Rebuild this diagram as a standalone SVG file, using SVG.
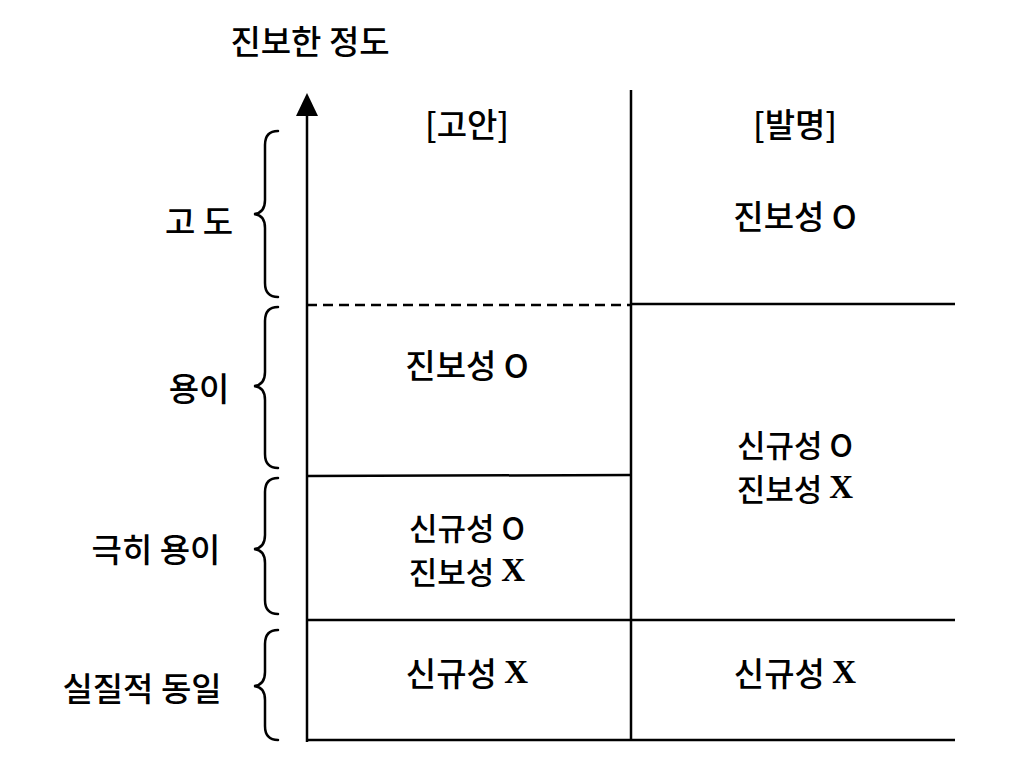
<svg xmlns="http://www.w3.org/2000/svg" width="1010" height="770" viewBox="0 0 1010 770">
<style>
text{font-family:"Noto Sans CJK KR","Noto Sans",sans-serif;font-size:33px;font-weight:500;fill:#000;text-anchor:middle;dominant-baseline:central}
.s{font-size:31px}
.x{font-family:"Liberation Serif",serif;font-weight:bold;font-size:33px}
.ln{stroke:#000;stroke-width:2.5;fill:none}
.br{stroke:#000;stroke-width:2.5;fill:none;stroke-linecap:round}
</style>
<rect width="1010" height="770" fill="#fff"/>
<g id="connectors">
<line class="ln" x1="307" y1="112" x2="307" y2="742"/>
<polygon points="307,93 296,116 318,116" fill="#000"/>
<line class="ln" x1="631" y1="90" x2="631" y2="741"/>
<line class="ln" x1="307" y1="305" x2="631" y2="305" stroke-dasharray="10,6"/>
<line class="ln" x1="631" y1="304" x2="955" y2="304"/>
<line class="ln" x1="307" y1="476" x2="631" y2="475"/>
<line class="ln" x1="307" y1="620" x2="955" y2="620"/>
<line class="ln" x1="307" y1="740" x2="955" y2="740" stroke-width="3"/>
</g>
<g id="braces">
<path class="br" d="M278,131 Q265,131 265,145 L265,200 Q265,213 254,214 Q265,215 265,228 L265,283 Q265,297 278,297"/>
<path class="br" d="M278,307 Q265,307 265,321 L265,372 Q265,385 254,386 Q265,387 265,400 L265,454 Q265,468 278,468"/>
<path class="br" d="M278,478 Q265,478 265,492 L265,535 Q265,548 254,549 Q265,550 265,563 L265,600 Q265,614 278,614"/>
<path class="br" d="M278,630 Q265,630 265,644 L265,672 Q265,685 254,686 Q265,687 265,700 L265,726 Q265,740 278,740"/>
</g>
<g id="title"><text x="310" y="40">진보한 정도</text></g>
<g id="head-utility"><text x="467" y="123">[고안]</text></g>
<g id="head-invention"><text x="795" y="123">[발명]</text></g>
<g id="lvl-high"><text x="199" y="220">고 도</text></g>
<g id="lvl-easy"><text x="199" y="387">용이</text></g>
<g id="lvl-very-easy"><text x="156" y="548">극히 용이</text></g>
<g id="lvl-same"><text x="142" y="687">실질적 동일</text></g>
<g id="inv-high"><text x="795" y="215">진보성 O</text></g>
<g id="util-easy"><text x="467" y="364">진보성 O</text></g>
<g id="util-very-easy"><text class="s" x="467" y="526">신규성 O</text><text class="s" x="467" y="570">진보성 <tspan class="x">X</tspan></text></g>
<g id="inv-mid"><text class="s" x="795" y="443">신규성 O</text><text class="s" x="795" y="487">진보성 <tspan class="x">X</tspan></text></g>
<g id="util-same"><text x="467" y="672">신규성 <tspan class="x">X</tspan></text></g>
<g id="inv-same"><text x="795" y="672">신규성 <tspan class="x">X</tspan></text></g>
</svg>
